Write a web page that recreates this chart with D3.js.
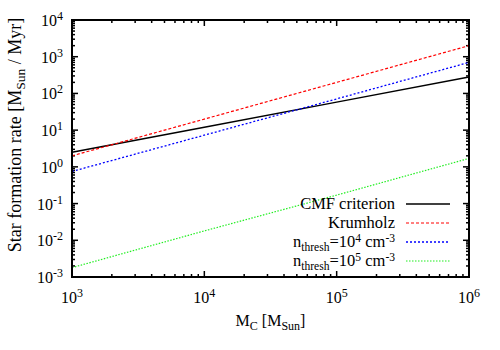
<!DOCTYPE html>
<html><head><meta charset="utf-8">
<script src="https://cdn.jsdelivr.net/npm/d3@7"></script>
<style>body{margin:0;background:#fff}svg{display:block}text{font-family:"Liberation Serif","DejaVu Serif",serif;fill:#000}</style>
</head><body><svg id="c" width="500" height="350"></svg>
<script>
// Data
const masses = [1e3, 1e4, 1e5, 1e6];
const cmf = [2.5, 12, 58, 280];
const krumholz = [2.0, 20, 200, 2000];
const n4 = [0.75, 7.3, 71, 700];
const n5 = [0.0018, 0.018, 0.17, 1.7];
const xTicks = [1e3, 1e4, 1e5, 1e6];
const yTicks = [1e-3, 1e-2, 1e-1, 1, 1e1, 1e2, 1e3, 1e4];

const series = [
  {name: "CMF criterion", values: cmf, color: "#000000", dash: null, w: 1.4},
  {name: "Krumholz", values: krumholz, color: "#ff0000", dash: "3,2", w: 1.2},
  {name: "n4", values: n4, color: "#0000ff", dash: "2,2", w: 1.3},
  {name: "n5", values: n5, color: "#22ee22", dash: "1.5,1.5", w: 1.2}
];

const L = 72, R = 469, T = 20, B = 277;
const svg = d3.select("#c");
const x = d3.scaleLog().domain([1e3, 1e6]).range([L, R]);
const y = d3.scaleLog().domain([1e-3, 1e4]).range([B, T]);
const FS = 16, LFS = 16.5, YFS = 18;

// minor ticks
const minorX = [], minorY = [];
for (let e = 3; e < 6; e++) for (let k = 2; k <= 9; k++) minorX.push(k * Math.pow(10, e));
for (let e = -3; e < 4; e++) for (let k = 2; k <= 9; k++) minorY.push(k * Math.pow(10, e));

const g = svg.append("g");
const tick = (x1, y1, x2, y2) => g.append("line").attr("x1", x1).attr("y1", y1).attr("x2", x2).attr("y2", y2).attr("stroke", "#000").attr("stroke-width", 1.5);
xTicks.forEach(v => { tick(x(v), B, x(v), B - 6); tick(x(v), T, x(v), T + 6); });
minorX.forEach(v => { tick(x(v), B, x(v), B - 3); tick(x(v), T, x(v), T + 3); });
yTicks.forEach(v => { tick(L, y(v), L + 6, y(v)); tick(R, y(v), R - 6, y(v)); });
minorY.forEach(v => { tick(L, y(v), L + 3, y(v)); tick(R, y(v), R - 3, y(v)); });

// lines
const line = d3.line().x(d => x(d[0])).y(d => y(d[1]));
series.forEach(s => {
  svg.append("path").datum(masses.map((m, i) => [m, s.values[i]]))
    .attr("d", line).attr("fill", "none").attr("stroke", s.color)
    .attr("stroke-width", s.w).attr("stroke-dasharray", s.dash);
});

// frame
svg.append("rect").attr("x", L).attr("y", T).attr("width", R - L).attr("height", B - T)
  .attr("fill", "none").attr("stroke", "#000").attr("stroke-width", 2);

// tick labels
function pow10(sel, exp) {
  sel.append("tspan").text("10");
  sel.append("tspan").attr("dy", -6).attr("font-size", FS * 0.75).text(exp);
}
xTicks.forEach(v => {
  const t = svg.append("text").attr("x", x(v)).attr("y", 303).attr("text-anchor", "middle").attr("font-size", FS);
  pow10(t, Math.round(Math.log10(v)));
});
yTicks.forEach(v => {
  const t = svg.append("text").attr("x", 63).attr("y", y(v) + 6).attr("text-anchor", "end").attr("font-size", FS);
  pow10(t, Math.round(Math.log10(v)));
});

// axis titles
const xt = svg.append("text").attr("x", (L + R) / 2).attr("y", 326).attr("text-anchor", "middle").attr("font-size", FS);
xt.append("tspan").text("M");
xt.append("tspan").attr("dy", 4).attr("font-size", FS * 0.75).text("C");
xt.append("tspan").attr("dy", -4).text(" [M");
xt.append("tspan").attr("dy", 4).attr("font-size", FS * 0.75).text("Sun");
xt.append("tspan").attr("dy", -4).text("]");

const yt = svg.append("text").attr("transform", `translate(21,135) rotate(-90)`).attr("text-anchor", "middle").attr("font-size", YFS);
yt.append("tspan").text("Star formation rate [M");
yt.append("tspan").attr("dy", 4).attr("font-size", YFS * 0.75).text("Sun");
yt.append("tspan").attr("dy", -4).text(" / Myr]");

// legend
const legY = [204, 223, 242, 261];
const lg = svg.append("g");
series.forEach((s, i) => {
  const yy = legY[i];
  lg.append("line").attr("x1", 406).attr("x2", 450).attr("y1", yy).attr("y2", yy)
    .attr("stroke", s.color).attr("stroke-width", s.w).attr("stroke-dasharray", s.dash);
  const t = lg.append("text").attr("x", 395).attr("y", yy + 5).attr("text-anchor", "end").attr("font-size", LFS);
  if (i < 2) t.text(s.name);
  else {
    const ss = LFS * 0.7;
    t.append("tspan").text("n");
    t.append("tspan").attr("dy", 4).attr("font-size", ss).text("thresh");
    t.append("tspan").attr("dy", -4).text("=10");
    t.append("tspan").attr("dy", -5).attr("font-size", ss).text(i === 2 ? "4" : "5");
    t.append("tspan").attr("dy", 5).text(" cm");
    t.append("tspan").attr("dy", -5).attr("font-size", ss).text("-3");
  }
});
</script></body></html>
